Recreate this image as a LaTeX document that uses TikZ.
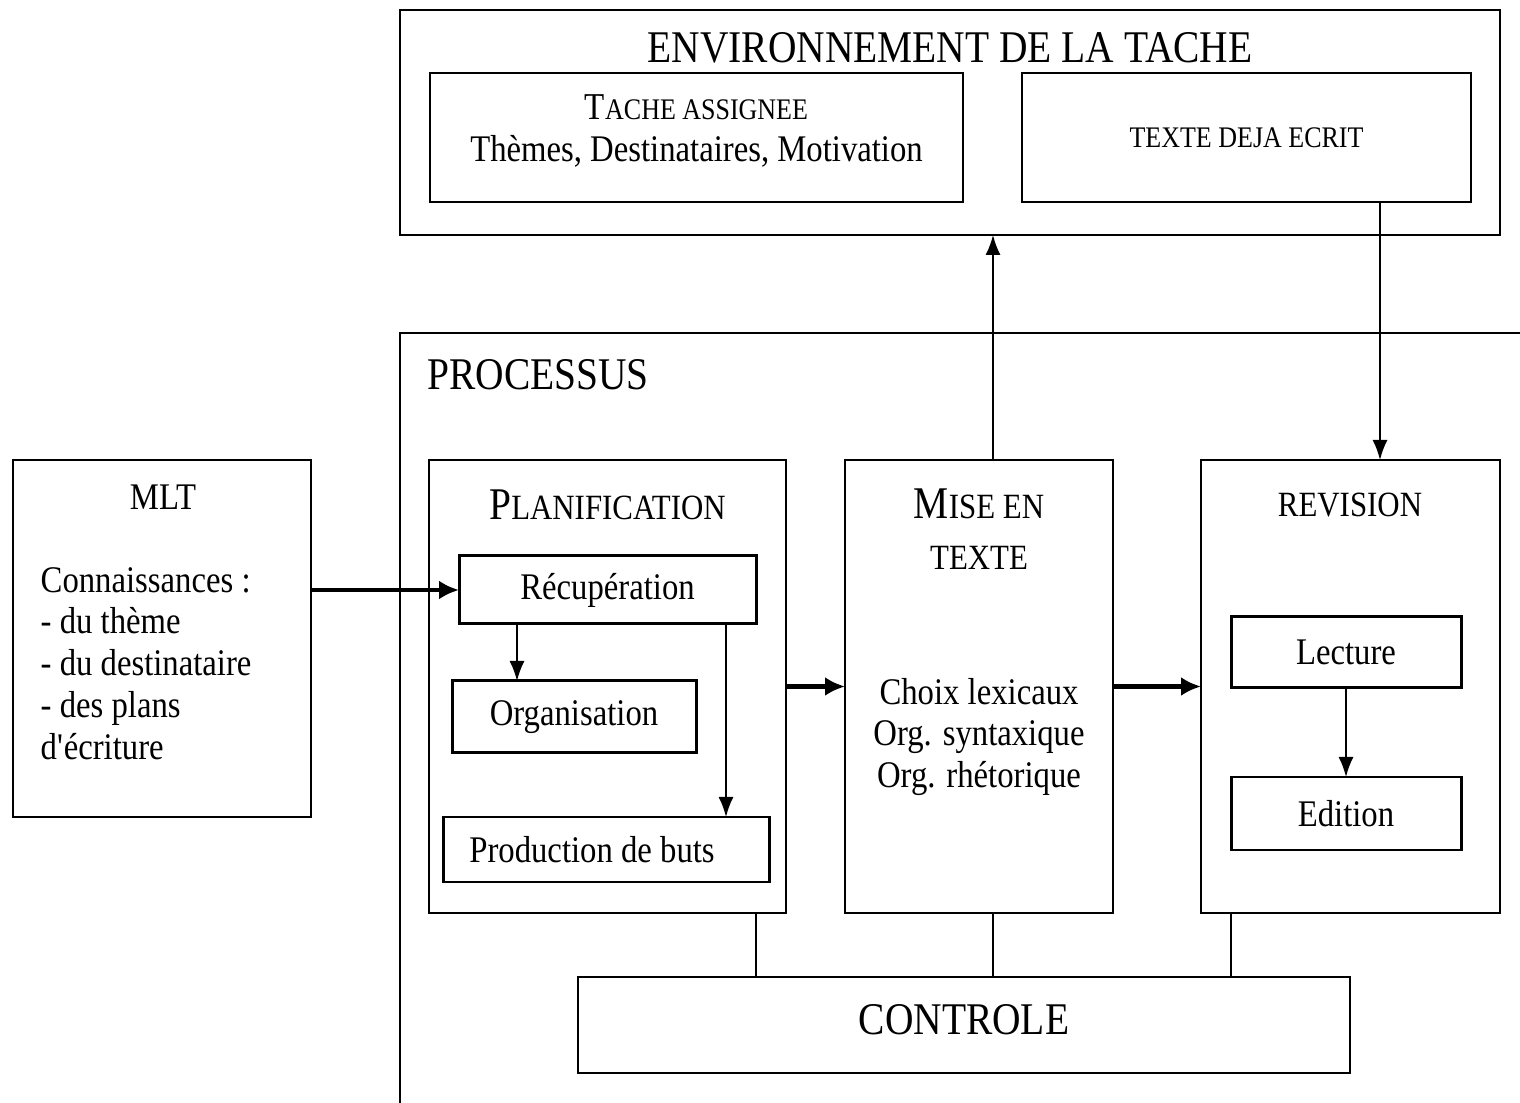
\documentclass[tikz,border=0pt]{standalone}
\usepackage{fontspec}
\setmainfont[FakeStretch=0.87]{Liberation Serif}
\usetikzlibrary{arrows.meta}

\newcommand{\bodyfont}{\fontsize{10.7}{11.9}\selectfont}
\newcommand{\capsbig}{\fontsize{12.9}{14}\selectfont}
\newcommand{\capsmid}{\fontsize{10.1}{11}\selectfont}
\newcommand{\capslow}{\fontsize{8.5}{9.5}\selectfont}

\begin{document}
\begin{tikzpicture}[x=0.1mm,y=-0.1mm,
    box/.style={draw,line width=0.6pt,inner sep=0pt,outer sep=0pt},
    inbox/.style={draw,line width=0.85pt,inner sep=0pt,outer sep=0pt,font=\bodyfont},
    arr/.style={-{Latex[length=2mm,width=1.5mm]},line width=0.5pt},
    bigarr/.style={-{Latex[length=2mm,width=1.9mm]},line width=1.2pt},
    link/.style={line width=0.5pt}]
    \useasboundingbox (0,0) rectangle (1520,1103);
    % environnement de la tache
    \node[box,minimum width=110mm,minimum height=22.5mm] (env) at (950,122.5) {};
    \node[font=\capsbig] (envtitle) at (950,48) {ENVIRONNEMENT DE LA TACHE};
    \node[box,minimum width=53.3mm,minimum height=12.9mm] (tache) at (696.5,137.5) {};
    \node[font=\bodyfont,align=center] (tachetxt) at (696.5,131)
        {{\fontsize{10.8}{12}\selectfont T}{\capslow ACHE ASSIGNEE}\\ Thèmes, Destinataires, Motivation};
    \node[box,minimum width=44.9mm,minimum height=12.9mm,font=\capslow] (texte) at (1246.5,137.5) {TEXTE DEJA ECRIT};
    % processus
    \draw[line width=0.6pt] (400,1103) coordinate (pbl) -- (400,333) coordinate (ptl) -- (1520,333) coordinate (ptr);
    \node[font=\capsbig,anchor=west] (proc) at (415,375) {PROCESSUS};
    % MLT
    \node[box,minimum width=29.8mm,minimum height=35.7mm] (mlt) at (162,638.5) {};
    \node[font=\bodyfont] (mlttitle) at (163,497) {MLT};
    \node[font=\bodyfont,align=left,anchor=west,inner sep=0pt] (mlttxt) at (40,663.5)
        {Connaissances :\\- du thème\\- du destinataire\\- des plans\\d\textquotesingle écriture};
    % planification
    \node[box,minimum width=35.7mm,minimum height=45.3mm] (plan) at (607.5,686.5) {};
    \node (plantitle) at (607.5,505) {{\capsbig P}{\capsmid LANIFICATION}};
    \node[inbox,minimum width=29.7mm,minimum height=6.8mm] (recup) at (607.5,590) {Récupération};
    \node[inbox,minimum width=24.4mm,minimum height=7.2mm] (orga) at (574,717) {Organisation};
    \node[inbox,minimum width=32.6mm,minimum height=6.5mm] (prod) at (606,849.5) {\hspace*{-2.8mm}Production de buts};
    % mise en texte
    \node[box,minimum width=26.8mm,minimum height=45.3mm] (mise) at (979,686.5) {};
    \node[align=center,font=\capsmid] (misetitle) at (979,529) {{\capsbig M}ISE EN\\[3.6pt] TEXTE};
    \node[align=center,font=\bodyfont] (misetxt) at (979,737) {Choix lexicaux\\Org. syntaxique\\Org. rhétorique};
    % revision
    \node[box,minimum width=29.9mm,minimum height=45.3mm] (revi) at (1350.5,686.5) {};
    \node[font=\capsmid] (revititle) at (1350,505) {REVISION};
    \node[inbox,minimum width=23mm,minimum height=7.1mm] (lect) at (1346,652.5) {Lecture};
    \node[inbox,minimum width=23mm,minimum height=7.3mm] (edit) at (1346,813.5) {Edition};
    % controle
    \node[box,minimum width=77.2mm,minimum height=9.6mm] (ctrl) at (964,1025) {};
    \node[font=\capsbig] (ctrltxt) at (964,1020) {CONTROLE};
    % fleches
    \draw[bigarr] (recup.west -| mlt.east) -- (recup.west);
    \draw[arr] ([xshift=6.5mm]orga.north west |- recup.south) -- ([xshift=6.5mm]orga.north west);
    \draw[arr] ([xshift=-3mm]recup.south east) -- ([xshift=-3mm]recup.south east |- prod.north);
    \draw[bigarr] (plan.east) -- (mise.west);
    \draw[bigarr] (mise.east) -- (revi.west);
    \draw[arr] (lect.south) -- (edit.north);
    \draw[arr] ([xshift=1.4mm]mise.north) -- ([xshift=1.4mm]mise.north |- env.south);
    \draw[arr] ([xshift=13.35mm]texte.south) -- ([xshift=13.35mm]texte.south |- revi.north);
    % liens vers le controle
    \draw[link] ([xshift=-3mm]plan.south east) -- ([xshift=-3mm]plan.south east |- ctrl.north);
    \draw[link] ([xshift=1.4mm]mise.south) -- ([xshift=1.4mm]mise.south |- ctrl.north);
    \draw[link] ([xshift=3mm]revi.south west) -- ([xshift=3mm]revi.south west |- ctrl.north);
\end{tikzpicture}
\end{document}
